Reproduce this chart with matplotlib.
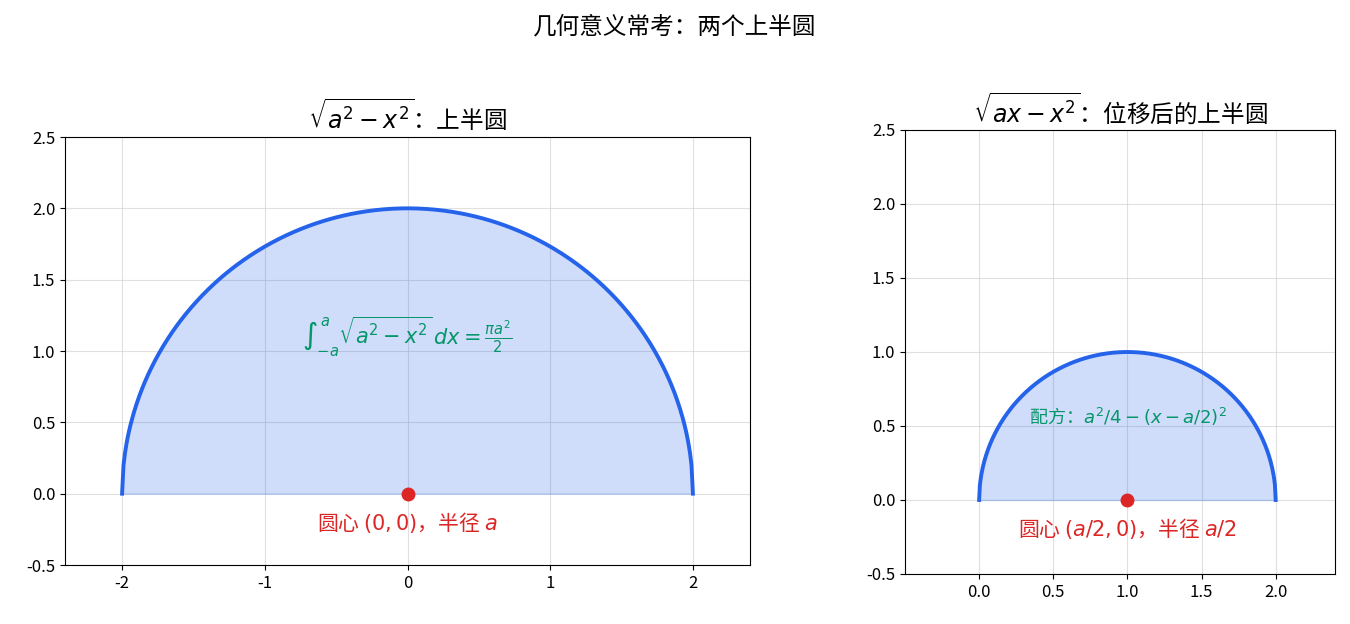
import numpy as np
import matplotlib
matplotlib.use("Agg")
import matplotlib.pyplot as plt

plt.rcParams['font.family'] = ['Noto Sans CJK SC', 'DejaVu Sans']
plt.rcParams['axes.unicode_minus'] = False

a_left = 2.0
a_right = 2.0
left_center = (0.0, 0.0)
right_center = (1.0, 0.0)
yticks = [-0.5, 0.0, 0.5, 1.0, 1.5, 2.0, 2.5]
left_xticks = [-2, -1, 0, 1, 2]
right_xticks = [0.0, 0.5, 1.0, 1.5, 2.0]

blue = '#2563eb'
red = '#dc2626'
green = '#059669'

fig = plt.figure(figsize=(13.5, 6.24), dpi=100)
ax1 = fig.add_axes([65/1350, 1-565/624, 685/1350, 428/624])
ax2 = fig.add_axes([905/1350, 1-574/624, 430/1350, 444/624])

# left
x = np.linspace(-a_left, a_left, 400)
y = np.sqrt(np.clip(a_left**2 - x**2, 0, None))
ax1.fill_between(x, 0, y, color=blue, alpha=0.22)
ax1.plot(x, y, color=blue, lw=2.8)
ax1.plot(*left_center, 'o', color=red, ms=9)
ax1.text(0, -0.2, r'圆心 $(0,0)$，半径 $a$', color=red, fontsize=15, ha='center', va='center')
ax1.text(0, 1.1, r'$\int_{-a}^{a}\sqrt{a^2-x^2}\,dx=\frac{\pi a^2}{2}$', color=green, fontsize=15, ha='center', va='center')
ax1.set_xlim(-2.4, 2.4)
ax1.set_ylim(-0.5, 2.5)
ax1.set_xticks(left_xticks)
ax1.set_xticklabels([str(v) for v in left_xticks])
ax1.set_yticks(yticks)
ax1.set_yticklabels([str(v) for v in yticks])
ax1.set_title(r'$\sqrt{a^2-x^2}$：上半圆', fontsize=17)

# right
x2 = np.linspace(0, a_right, 400)
y2 = np.sqrt(np.clip(a_right*x2/ a_right * a_right/2*2 - x2**2, 0, None)) if False else np.sqrt(np.clip(1.0 - (x2-1.0)**2, 0, None))
ax2.fill_between(x2, 0, y2, color=blue, alpha=0.22)
ax2.plot(x2, y2, color=blue, lw=2.8)
ax2.plot(*right_center, 'o', color=red, ms=9)
ax2.text(1.0, -0.19, r'圆心 $(a/2,0)$，半径 $a/2$', color=red, fontsize=15, ha='center', va='center')
ax2.text(1.0, 0.56, r'配方：$a^2/4-(x-a/2)^2$', color=green, fontsize=13, ha='center', va='center')
ax2.set_xlim(-0.5, 2.4)
ax2.set_ylim(-0.5, 2.5)
ax2.set_xticks(right_xticks)
ax2.set_xticklabels([str(v) for v in right_xticks])
ax2.set_yticks(yticks)
ax2.set_yticklabels([str(v) for v in yticks])
ax2.set_title(r'$\sqrt{ax-x^2}$：位移后的上半圆', fontsize=17)

for ax in (ax1, ax2):
    ax.grid(True, color='#cccccc', alpha=0.6, lw=0.8)
    ax.set_axisbelow(True)
    ax.tick_params(labelsize=12)

fig.suptitle('几何意义常考：两个上半圆', fontsize=17, y=0.975)
fig.savefig('out.png', dpi=100)
